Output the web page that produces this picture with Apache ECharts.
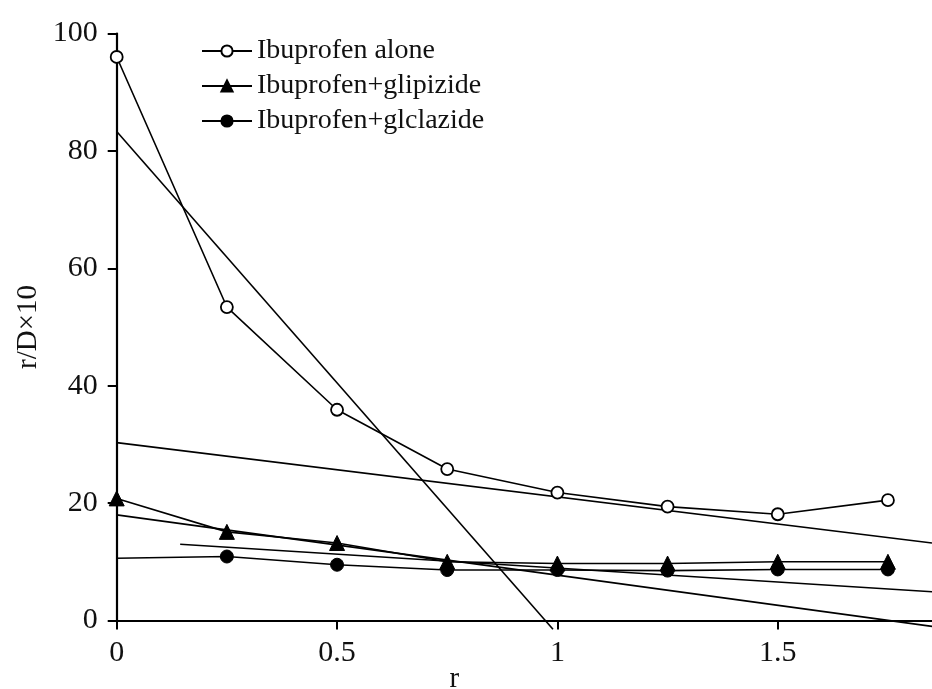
<!DOCTYPE html>
<html>
<head>
<meta charset="utf-8">
<script src="https://cdn.jsdelivr.net/npm/echarts@6/dist/echarts.min.js"></script>
<style>html,body{margin:0;padding:0;background:#fff}#c{width:932px;height:689px}</style>
</head>
<body>
<div id="c"></div>
<script>
// r values (x)
const rValues = [0, 0.25, 0.5, 0.75, 1, 1.25, 1.5, 1.75];
// r/D x10 values
const aloneValues = [96.0, 53.4, 35.9, 25.8, 21.8, 19.4, 18.1, 20.5];
const glipizideValues = [20.8, 15.1, 13.2, 10.0, 9.7, 9.7, 10.0, 10.0];
const gliclazideValues = [10.6, 10.9, 9.5, 8.6, 8.6, 8.5, 8.7, 8.7];
// fitted straight lines (two end points each)
const fitAloneHighX = [0, 0.99];
const fitAloneHighY = [83.3, -1.5];
const fitAloneLowX = [0, 1.85];
const fitAloneLowY = [30.3, 13.2];
const fitGlipX = [0, 1.85];
const fitGlipY = [18.0, -1.0];
const fitGlicX = [0.144, 1.85];
const fitGlicY = [13.0, 4.9];
const xTicks = [0, 0.5, 1, 1.5];
const yTicks = [0, 20, 40, 60, 80, 100];
const seriesNames = ['Ibuprofen alone', 'Ibuprofen+glipizide', 'Ibuprofen+glclazide'];

const FONT = "'Liberation Serif','Times New Roman',serif";
const pair = (xs, ys) => xs.map((x, i) => [x, ys[i]]);

function fitSeries(xs, ys) {
  return {
    type: 'line', data: pair(xs, ys), symbol: 'none', clip: false,
    lineStyle: { color: '#000', width: 1.6 }, silent: true, z: 1
  };
}

const chart = echarts.init(document.getElementById('c'), null, { renderer: 'canvas' });
chart.setOption({
  animation: false,
  backgroundColor: '#fff',
  grid: { left: 116.7, right: 0, top: 33.5, bottom: 68.5, containLabel: false, outerBoundsMode: 'none' },
  legend: {
    data: seriesNames,
    left: 196, top: 32, orient: 'vertical',
    itemWidth: 50, itemHeight: 14, itemGap: 7,
    textStyle: { fontFamily: FONT, fontSize: 28, color: '#111', lineHeight: 28 }
  },
  xAxis: {
    type: 'value', min: 0, max: 1.85, interval: 0.5,
    name: 'r', nameLocation: 'middle', nameGap: 44, nameMoveOverlap: false,
    nameTextStyle: { fontFamily: FONT, fontSize: 29, color: '#111', padding: [0, 140, 0, 0] },
    axisLine: { show: true, onZero: false, lineStyle: { color: '#000', width: 2.2 } },
    axisTick: { show: true, length: 9, lineStyle: { color: '#000', width: 2 }, customValues: xTicks },
    axisLabel: { fontFamily: FONT, fontSize: 30, color: '#111', margin: 18, customValues: xTicks },
    splitLine: { show: false }
  },
  yAxis: {
    type: 'value', min: 0, max: 100, interval: 20,
    name: 'r/D\u00d710', nameLocation: 'middle', nameGap: 74, nameMoveOverlap: false,
    nameTextStyle: { fontFamily: FONT, fontSize: 29, color: '#111' },
    axisLine: { show: true, onZero: false, lineStyle: { color: '#000', width: 2.2 } },
    axisTick: { show: true, length: 9, lineStyle: { color: '#000', width: 2 }, customValues: yTicks },
    axisLabel: { fontFamily: FONT, fontSize: 30, color: '#111', margin: 19, customValues: yTicks },
    splitLine: { show: false }
  },
  series: [
    fitSeries(fitAloneHighX, fitAloneHighY),
    fitSeries(fitAloneLowX, fitAloneLowY),
    fitSeries(fitGlipX, fitGlipY),
    fitSeries(fitGlicX, fitGlicY),
    {
      name: seriesNames[0], type: 'line', data: pair(rValues, aloneValues),
      symbol: 'circle', symbolSize: 12, showAllSymbol: true, clip: false, z: 3,
      lineStyle: { color: '#000', width: 1.6 },
      itemStyle: { color: '#fff', borderColor: '#000', borderWidth: 1.8 }
    },
    {
      name: seriesNames[1], type: 'line', data: pair(rValues, glipizideValues),
      symbol: 'triangle', symbolSize: 15, showAllSymbol: true, clip: false, z: 3,
      lineStyle: { color: '#000', width: 1.6 },
      itemStyle: { color: '#000', borderColor: '#000', borderWidth: 1 }
    },
    {
      name: seriesNames[2], type: 'line',
      data: pair(rValues, gliclazideValues).map((v, i) => i === 0 ? { value: v, symbol: 'none' } : v),
      symbol: 'circle', symbolSize: 13, showAllSymbol: true, clip: false, z: 3,
      lineStyle: { color: '#000', width: 1.6 },
      itemStyle: { color: '#000', borderColor: '#000', borderWidth: 1 }
    }
  ]
});
</script>
</body>
</html>
